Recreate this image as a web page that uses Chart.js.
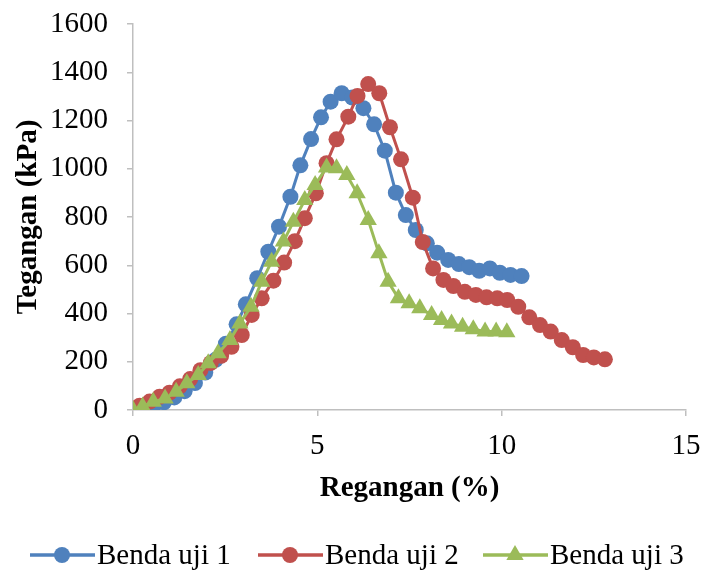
<!DOCTYPE html>
<html>
<head>
<meta charset="utf-8">
<script src="https://cdn.jsdelivr.net/npm/chart.js@4"></script>
<style>
  html, body { margin: 0; padding: 0; background: #fff; }
  #wrap { width: 702px; height: 577px; }
</style>
</head>
<body>
<div id="wrap"><canvas id="chart" width="702" height="577"></canvas></div>
<script>
// data: regangan (%) and tegangan (kPa)
const blueX = [0, 0.28, 0.56, 0.84, 1.12, 1.40, 1.68, 1.96, 2.24, 2.52, 2.81, 3.06, 3.37, 3.67, 3.96, 4.27, 4.54, 4.83, 5.10, 5.36, 5.66, 5.95, 6.25, 6.54, 6.83, 7.13, 7.40, 7.67, 7.97, 8.25, 8.55, 8.84, 9.12, 9.39, 9.68, 9.95, 10.24, 10.54];
const blueY = [0, 8, 18, 32, 52, 78, 112, 155, 208, 275, 355, 438, 546, 656, 760, 884, 1014, 1123, 1213, 1278, 1313, 1295, 1251, 1184, 1075, 901, 808, 746, 691, 652, 622, 605, 592, 577, 587, 569, 560, 555];

const redX = [0, 0.18, 0.45, 0.72, 0.99, 1.27, 1.55, 1.83, 2.11, 2.39, 2.67, 2.95, 3.22, 3.49, 3.81, 4.10, 4.39, 4.66, 4.96, 5.25, 5.52, 5.84, 6.09, 6.38, 6.68, 6.97, 7.27, 7.59, 7.86, 8.14, 8.42, 8.69, 9.00, 9.30, 9.59, 9.88, 10.15, 10.45, 10.75, 11.04, 11.33, 11.63, 11.93, 12.21, 12.50, 12.80];
const redY = [0, 18, 35, 55, 72, 98, 128, 165, 195, 225, 262, 311, 394, 463, 536, 611, 700, 795, 898, 1023, 1122, 1216, 1302, 1351, 1313, 1172, 1039, 880, 696, 587, 539, 514, 490, 477, 467, 463, 456, 428, 384, 352, 325, 290, 260, 228, 218, 210];

const greenX = [0, 0.26, 0.55, 0.87, 1.17, 1.46, 1.77, 2.04, 2.31, 2.63, 2.90, 3.20, 3.49, 3.76, 4.08, 4.35, 4.66, 4.94, 5.25, 5.52, 5.80, 6.08, 6.38, 6.67, 6.92, 7.20, 7.49, 7.78, 8.10, 8.37, 8.64, 8.94, 9.23, 9.55, 9.85, 10.14];
const greenY = [0, 14, 34, 48, 76, 111, 145, 194, 235, 290, 359, 428, 532, 615, 698, 780, 870, 933, 1005, 1002, 974, 898, 788, 650, 532, 463, 442, 422, 394, 373, 359, 345, 335, 325, 325, 322];

const seriesNames = ['Benda uji 1', 'Benda uji 2', 'Benda uji 3'];
const seriesColors = ['#4F81BD', '#C0504D', '#9BBB59'];
const seriesShapes = ['circle', 'circle', 'triangle'];

const xTitle = 'Regangan (%)';
const yTitle = 'Tegangan (kPa)';

const serif = "'Liberation Serif', 'Times New Roman', serif";
const fontSize = 29;

function toPoints(xs, ys) {
    return xs.map((x, i) => ({ x: x, y: ys[i] }));
}

function makeDataset(i, xs, ys) {
    return {
        label: seriesNames[i],
        data: toPoints(xs, ys),
        showLine: true,
        borderColor: seriesColors[i],
        backgroundColor: seriesColors[i],
        borderWidth: 3,
        pointStyle: seriesShapes[i],
        pointRadius: seriesShapes[i] === 'triangle' ? 10 : 8,
        pointBorderWidth: 0,
        tension: 0,
        order: 3 - i   // later series drawn on top, like the original
    };
}

// legend drawn below the plot: line with the marker in the middle
const legendPlugin = {
    id: 'bottomLegend',
    afterDraw(chart) {
        const ctx = chart.ctx;
        const y = 555;
        const starts = [30, 258, 483];
        ctx.save();
        ctx.font = fontSize + 'px ' + serif;
        ctx.textBaseline = 'middle';
        chart.data.datasets.forEach((ds, i) => {
            const x0 = starts[i];
            ctx.strokeStyle = ds.borderColor;
            ctx.lineWidth = 3.5;
            ctx.beginPath();
            ctx.moveTo(x0, y);
            ctx.lineTo(x0 + 65, y);
            ctx.stroke();
            ctx.fillStyle = ds.backgroundColor;
            Chart.helpers.drawPoint(ctx, {
                pointStyle: ds.pointStyle,
                radius: ds.pointStyle === 'triangle' ? 10 : 8,
                borderWidth: 0
            }, x0 + 32, y);
            ctx.fillStyle = '#000';
            ctx.textAlign = 'left';
            ctx.fillText(ds.label, x0 + 67, y + 1);
        });
        ctx.restore();
    }
};

document.addEventListener('DOMContentLoaded', function() {
    const ctx = document.getElementById('chart').getContext('2d');
    window.myChart = new Chart(ctx, {
        type: 'scatter',
        data: {
            datasets: [
                makeDataset(0, blueX, blueY),
                makeDataset(1, redX, redY),
                makeDataset(2, greenX, greenY)
            ]
        },
        options: {
            responsive: false,
            animation: false,
            layout: { padding: { left: 0, top: 24, right: 16, bottom: 67 } },
            plugins: {
                legend: { display: false },
                tooltip: { enabled: false }
            },
            scales: {
                x: {
                    type: 'linear',
                    min: 0,
                    max: 15,
                    ticks: { stepSize: 5, color: '#000', padding: 13, font: { family: serif, size: fontSize }, callback: v => String(v) },
                    grid: { display: true, drawOnChartArea: false, drawTicks: true, tickLength: 6, color: '#BFBFBF', lineWidth: 1.5 },
                    border: { display: true, color: '#BFBFBF', width: 1.5 },
                    title: { display: true, text: xTitle, color: '#000', font: { family: serif, size: fontSize, weight: 'bold' }, padding: { top: 0, bottom: 4 } },
                    afterFit(scale) {
                        scale.height = 100;
                        scale.paddingLeft = 0;
                        scale.paddingRight = 0;
                    }
                },
                y: {
                    min: 0,
                    max: 1600,
                    ticks: { stepSize: 200, color: '#000', padding: 19, font: { family: serif, size: fontSize }, callback: v => String(v) },
                    grid: { display: true, drawOnChartArea: false, drawTicks: true, tickLength: 6, color: '#BFBFBF', lineWidth: 1.5 },
                    border: { display: true, color: '#BFBFBF', width: 1.5 },
                    title: { display: true, text: yTitle, color: '#000', font: { family: serif, size: fontSize, weight: 'bold' }, padding: { top: 11, bottom: 0 } },
                    afterFit(scale) {
                        scale.width = 133;
                        scale.paddingTop = 0;
                        scale.paddingBottom = 0;
                    }
                }
            }
        },
        plugins: [legendPlugin]
    });
});
</script>
</body>
</html>
